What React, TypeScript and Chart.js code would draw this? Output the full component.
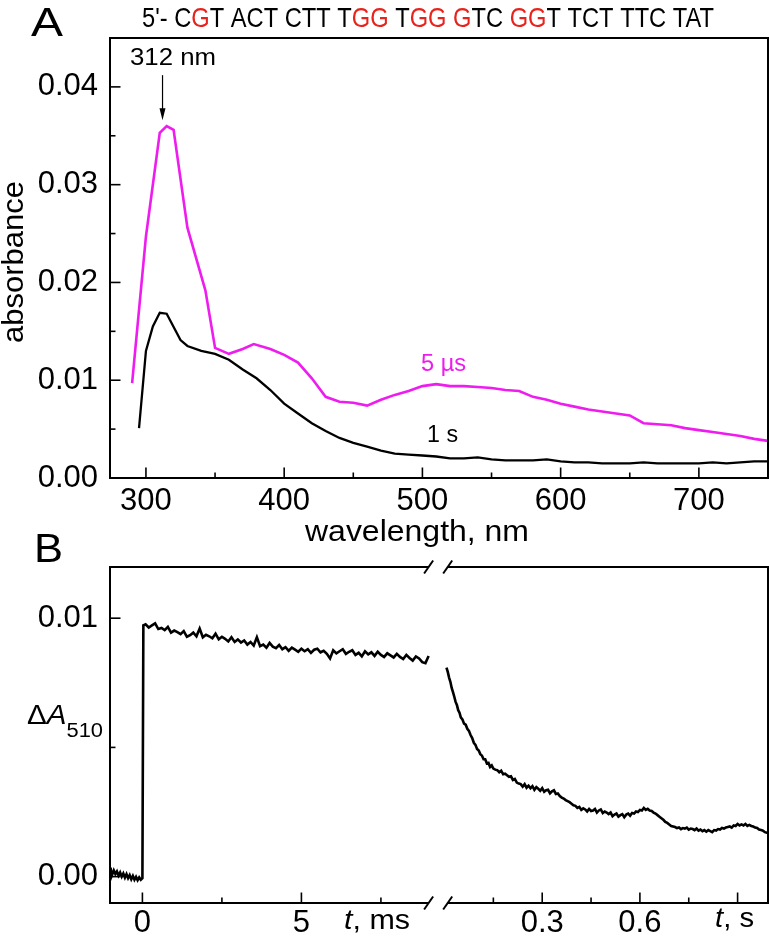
import React, { useEffect, useRef } from "react";
import { Chart, registerables } from "chart.js";

Chart.register(...registerables);

const FONT = "'Liberation Sans', Arial, Helvetica, sans-serif";
const BLACK = "#000000";
const MAGENTA = "#ee1cee";
const RED = "#e8221c";

// ---------------- Panel A data (transient absorption spectra) ----------------
const WL_5US = [290, 300, 310, 315, 320, 330, 343, 350, 360, 370, 378, 390, 400, 410, 420, 430, 440, 450, 460, 470, 480, 490, 500, 510, 520, 530, 540, 550, 560, 570, 580, 590, 600, 610, 620, 630, 640, 650, 660, 670, 680, 690, 700, 710, 720, 730, 740, 750];
const ABS_5US = [0.0097, 0.0247, 0.0353, 0.036, 0.0356, 0.0256, 0.0192, 0.0133, 0.0127, 0.0132, 0.0137, 0.0132, 0.0126, 0.0118, 0.0102, 0.0083, 0.0078, 0.0077, 0.0074, 0.008, 0.0085, 0.0089, 0.0094, 0.0096, 0.0094, 0.0094, 0.0093, 0.0092, 0.009, 0.0089, 0.0083, 0.008, 0.0076, 0.0073, 0.007, 0.0068, 0.0066, 0.0064, 0.0056, 0.0055, 0.0054, 0.0051, 0.0049, 0.0047, 0.0045, 0.0043, 0.004, 0.0038];
const WL_1S = [295, 300, 305, 310, 315, 325, 330, 340, 350, 360, 370, 380, 390, 400, 410, 420, 430, 440, 450, 460, 470, 480, 490, 500, 510, 520, 530, 540, 550, 560, 570, 580, 590, 600, 610, 620, 630, 640, 650, 660, 670, 680, 690, 700, 710, 720, 730, 740, 750];
const ABS_1S = [0.0051, 0.013, 0.0155, 0.0169, 0.0168, 0.0141, 0.0135, 0.013, 0.0127, 0.0121, 0.0111, 0.0102, 0.009, 0.0076, 0.0066, 0.0056, 0.0048, 0.0041, 0.0036, 0.0032, 0.0028, 0.0025, 0.0024, 0.0023, 0.0022, 0.002, 0.002, 0.0021, 0.0019, 0.0018, 0.0018, 0.0018, 0.0019, 0.0017, 0.0016, 0.0016, 0.0015, 0.0015, 0.0015, 0.0016, 0.0015, 0.0015, 0.0015, 0.0015, 0.0016, 0.0015, 0.0016, 0.0017, 0.0017];
const A_X_TICKS = [300, 400, 500, 600, 700];
const A_X_MINOR = [350, 450, 550, 650];
const A_Y_TICKS = [0, 0.01, 0.02, 0.03, 0.04];
const A_Y_MINOR = [0.005, 0.015, 0.025, 0.035];
const PEAK_NM = 312;
const SEQ_PARTS: [string, boolean][] = [
  ["5'- C", false], ["G", true], ["T ACT CTT T", false], ["GG", true], [" T", false],
  ["GG G", true], ["TC ", false], ["GG", true], ["T TCT TTC TAT", false],
];

// ---------------- Panel B data (kinetic trace at 510 nm) ----------------
const B_T_MS = [
  -1.0, -0.97, -0.9, -0.85, -0.8, -0.75, -0.7, -0.65, -0.6, -0.55, -0.5, -0.45, -0.4, -0.35, -0.3, -0.25, -0.2, -0.15, -0.1, -0.05, 0.0, 0.03,
  0.1, 0.2, 0.3, 0.4, 0.5, 0.6, 0.7, 0.8, 0.9, 1.0,
  1.1, 1.2, 1.3, 1.4, 1.5, 1.6, 1.7, 1.8, 1.9, 2.0,
  2.1, 2.2, 2.3, 2.4, 2.5, 2.6, 2.7, 2.8, 2.9, 3.0,
  3.1, 3.2, 3.3, 3.4, 3.5, 3.6, 3.7, 3.8, 3.9, 4.0,
  4.1, 4.2, 4.3, 4.4, 4.5, 4.6, 4.7, 4.8, 4.9, 5.0,
  5.1, 5.2, 5.3, 5.4, 5.5, 5.6, 5.7, 5.8, 5.9, 6.0,
  6.1, 6.2, 6.3, 6.4, 6.5, 6.6, 6.7, 6.8, 6.9, 7.0,
  7.1, 7.2, 7.3, 7.4, 7.5, 7.6, 7.7, 7.8, 7.9, 8.0,
  8.1, 8.2, 8.3, 8.4, 8.5, 8.6, 8.7, 8.8, 8.9, 9.0,
];
const B_DA_MS = [
  0.00035, 0.00002, 0.00024, 0.0001, 0.0002, 0.00004, 0.00016, 0.0, 0.00012, -0.00004, 0.0001, -0.00006, 0.00006, -0.0001, 0.00003, -0.00012, -0.00001, -0.00014, -0.00003, -0.00012, -0.00006, 0.00972,
  0.00976, 0.00964, 0.00972, 0.0098, 0.00958, 0.00962, 0.00954, 0.00966, 0.00944, 0.00952,
  0.00946, 0.00938, 0.0095, 0.00928, 0.00934, 0.00944, 0.0093, 0.0096, 0.00926, 0.00936,
  0.0093, 0.00922, 0.0094, 0.00918, 0.00928, 0.0092, 0.0091, 0.00926, 0.00908, 0.00918,
  0.00906, 0.00914, 0.00898, 0.00908, 0.00894, 0.00926, 0.00892, 0.00898, 0.00886, 0.00904,
  0.0089, 0.00884, 0.00896, 0.0088, 0.00888, 0.00874, 0.00886, 0.00878, 0.0087, 0.00882,
  0.00872, 0.0088, 0.00866, 0.00878, 0.00882, 0.00868, 0.00874, 0.00862, 0.00844, 0.00876,
  0.00864, 0.00872, 0.0088, 0.00862, 0.0087, 0.00876, 0.00858, 0.00866, 0.00852, 0.00872,
  0.0086, 0.00868, 0.00854, 0.0087, 0.00858, 0.0085, 0.00864, 0.00856, 0.00848, 0.00862,
  0.0085, 0.00842, 0.00858, 0.00846, 0.00836, 0.00852, 0.00844, 0.0083, 0.00826, 0.00854,
];
const B_T_S = [
  0.006, 0.01, 0.014, 0.018, 0.022, 0.026, 0.03, 0.034, 0.038, 0.042,
  0.046, 0.05, 0.055, 0.06, 0.065, 0.07, 0.075, 0.08, 0.085, 0.09,
  0.095, 0.1, 0.105, 0.11, 0.115, 0.12, 0.125, 0.13, 0.135, 0.14,
  0.145, 0.15, 0.156, 0.162, 0.168, 0.174, 0.18, 0.186, 0.192, 0.198,
  0.204, 0.21, 0.216, 0.222, 0.228, 0.234, 0.24, 0.246, 0.252, 0.258,
  0.264, 0.27, 0.276, 0.282, 0.288, 0.294, 0.3, 0.306, 0.312, 0.318,
  0.324, 0.33, 0.336, 0.342, 0.348, 0.354, 0.36, 0.366, 0.372, 0.378,
  0.384, 0.39, 0.396, 0.402, 0.408, 0.414, 0.42, 0.426, 0.432, 0.438,
  0.444, 0.45, 0.456, 0.462, 0.468, 0.474, 0.48, 0.486, 0.492, 0.498,
  0.504, 0.51, 0.516, 0.522, 0.528, 0.534, 0.54, 0.546, 0.552, 0.558,
  0.564, 0.57, 0.576, 0.582, 0.588, 0.594, 0.6, 0.606, 0.612, 0.618,
  0.624, 0.63, 0.636, 0.642, 0.648, 0.654, 0.66, 0.666, 0.672, 0.678,
  0.684, 0.69, 0.696, 0.702, 0.708, 0.714, 0.72, 0.726, 0.732, 0.738,
  0.744, 0.75, 0.756, 0.762, 0.768, 0.774, 0.78, 0.786, 0.792, 0.798,
  0.804, 0.81, 0.816, 0.822, 0.828, 0.834, 0.84, 0.846, 0.852, 0.858,
  0.864, 0.87, 0.876, 0.882, 0.888, 0.894, 0.9, 0.906, 0.912, 0.918,
  0.924, 0.93, 0.936, 0.942, 0.948, 0.954, 0.96, 0.966, 0.972, 0.978,
  0.984, 0.99, 0.993,
];
const B_DA_S = [
  0.00809, 0.00792, 0.0077, 0.00754, 0.0073, 0.00714, 0.00696, 0.00676, 0.00664, 0.00644,
  0.00634, 0.00616, 0.00608, 0.00592, 0.00588, 0.00572, 0.00564, 0.00548, 0.00536, 0.00518,
  0.0051, 0.00494, 0.00488, 0.00474, 0.00468, 0.00454, 0.00454, 0.00438, 0.0044, 0.00424,
  0.0043, 0.00418, 0.00414, 0.00412, 0.00404, 0.0041, 0.00396, 0.00398, 0.00392, 0.00386,
  0.00388, 0.00374, 0.00378, 0.00364, 0.0036, 0.00358, 0.00348, 0.00358, 0.00344, 0.00352,
  0.00342, 0.0035, 0.00336, 0.00346, 0.0034, 0.00332, 0.00342, 0.00328, 0.00334, 0.00336,
  0.00322, 0.0033, 0.00334, 0.0032, 0.00322, 0.00312, 0.00306, 0.00302, 0.00296, 0.00292,
  0.00288, 0.00282, 0.00276, 0.00274, 0.00266, 0.0027, 0.00258, 0.00264, 0.0026, 0.00252,
  0.00262, 0.00254, 0.00256, 0.00262, 0.00248, 0.00256, 0.0026, 0.00246, 0.00252, 0.00248,
  0.00242, 0.00248, 0.00234, 0.0024, 0.00244, 0.00232, 0.00238, 0.00242, 0.0023, 0.0024,
  0.00244, 0.00236, 0.00246, 0.00244, 0.00252, 0.0025, 0.00258, 0.00256, 0.00266, 0.00258,
  0.00262, 0.00256, 0.00254, 0.00248, 0.00244, 0.00238, 0.00232, 0.00226, 0.0022, 0.00212,
  0.00208, 0.00202, 0.00196, 0.00194, 0.00192, 0.00188, 0.0019, 0.00184, 0.00188, 0.00186,
  0.0019, 0.00182, 0.00186, 0.00184, 0.0018, 0.00186, 0.00178, 0.00182, 0.00176, 0.0018,
  0.00174, 0.0018, 0.00176, 0.00172, 0.0018, 0.00178, 0.00184, 0.00182, 0.00188, 0.00186,
  0.0019, 0.00192, 0.00194, 0.0019, 0.00198, 0.00196, 0.00204, 0.00198, 0.00202, 0.00198,
  0.00204, 0.00196, 0.002, 0.00196, 0.00194, 0.0019, 0.00188, 0.00182, 0.0018, 0.00178,
  0.00172, 0.0017, 0.00168,
];
const B_MS_TICKS = [0, 5];
const B_MS_MINOR = [2.5, 7.5];
const B_S_TICKS = [0.3, 0.6];
const B_S_MAJOR_UNLABELED = [0.9];
const B_S_MINOR = [0.15, 0.45, 0.75];
const B_Y_TICKS = [0, 0.01];
const B_Y_MINOR = [0.005];

// Broken time axis: ms segment keeps its units, seconds segment is placed after the break.
const SEC_OFFSET = 9.5; // axis position of t = 0 s
const SEC_SCALE = 10.24; // axis units per second
const BREAK_START = 9.0;
const BREAK_END = 9.6;
const secToAxis = (s: number) => SEC_OFFSET + s * SEC_SCALE;

// ---------------- drawing helpers ----------------
type Seg = { text: string; size: number; italic?: boolean; color?: string; dy?: number };

function drawRich(
  ctx: CanvasRenderingContext2D,
  segs: Seg[],
  x: number,
  y: number,
  align: "left" | "center" | "right" = "left",
  targetWidth?: number
) {
  ctx.save();
  ctx.textBaseline = "alphabetic";
  ctx.textAlign = "left";
  const fontOf = (s: Seg) => `${s.italic ? "italic " : ""}${s.size}px ${FONT}`;
  const widths = segs.map((s) => {
    ctx.font = fontOf(s);
    return ctx.measureText(s.text).width;
  });
  const total = widths.reduce((a, b) => a + b, 0);
  const sx = targetWidth ? targetWidth / total : 1;
  const w = total * sx;
  const x0 = align === "left" ? x : align === "center" ? x - w / 2 : x - w;
  ctx.translate(x0, y);
  ctx.scale(sx, 1);
  let cx = 0;
  segs.forEach((s, i) => {
    ctx.font = fontOf(s);
    ctx.fillStyle = s.color || BLACK;
    ctx.fillText(s.text, cx, s.dy || 0);
    cx += widths[i];
  });
  ctx.restore();
}

function seg(ctx: CanvasRenderingContext2D, x1: number, y1: number, x2: number, y2: number) {
  ctx.beginPath();
  ctx.moveTo(x1, y1);
  ctx.lineTo(x2, y2);
  ctx.stroke();
}

const MAJOR = 10.5;
const MINOR = 5.5;

const panelAPlugin = {
  id: "panelADecor",
  afterDraw(chart: any) {
    const { ctx, chartArea: a } = chart;
    const xs = chart.scales.x;
    const ys = chart.scales.y;
    ctx.save();
    ctx.strokeStyle = BLACK;
    ctx.fillStyle = BLACK;
    ctx.lineWidth = 2;
    ctx.strokeRect(a.left, a.top, a.right - a.left, a.bottom - a.top);
    ctx.lineWidth = 1.6;
    A_X_TICKS.forEach((v) => { const p = xs.getPixelForValue(v); seg(ctx, p, a.bottom, p, a.bottom - MAJOR); });
    A_X_MINOR.forEach((v) => { const p = xs.getPixelForValue(v); seg(ctx, p, a.bottom, p, a.bottom - MINOR); });
    A_Y_TICKS.forEach((v) => { const p = ys.getPixelForValue(v); seg(ctx, a.left, p, a.left + MAJOR, p); });
    A_Y_MINOR.forEach((v) => { const p = ys.getPixelForValue(v); seg(ctx, a.left, p, a.left + MINOR, p); });

    // arrow to the 312 nm maximum
    const ax = xs.getPixelForValue(PEAK_NM);
    const yTop = ys.getPixelForValue(0.0412);
    const yTip = ys.getPixelForValue(0.0366);
    ctx.lineWidth = 1.2;
    seg(ctx, ax, yTop, ax, yTip - 10);
    ctx.beginPath();
    ctx.moveTo(ax - 3, yTip - 12);
    ctx.lineTo(ax + 3, yTip - 12);
    ctx.lineTo(ax, yTip);
    ctx.closePath();
    ctx.fill();

    drawRich(ctx, [{ text: "312 nm", size: 24 }], 173, 65, "center", 86);
    drawRich(ctx, [{ text: "5 µs", size: 24, color: MAGENTA }], 421, 371, "left", 45);
    drawRich(ctx, [{ text: "1 s", size: 24 }], 427, 442, "left", 31);
    drawRich(ctx, [{ text: "A", size: 40 }], 31, 36, "left", 32);
    drawRich(
      ctx,
      SEQ_PARTS.map(([t, red]) => ({ text: t, size: 28, color: red ? RED : BLACK })),
      142, 27, "left", 572
    );
    drawRich(ctx, [{ text: "wavelength, nm", size: 30 }], 417, 541, "center", 224);
    ctx.save();
    ctx.translate(23, 262);
    ctx.rotate(-Math.PI / 2);
    drawRich(ctx, [{ text: "absorbance", size: 29 }], 0, 0, "center", 162);
    ctx.restore();
    ctx.restore();
  },
};

const panelBPlugin = {
  id: "panelBDecor",
  afterDraw(chart: any) {
    const { ctx, chartArea: a } = chart;
    const xs = chart.scales.x;
    const ys = chart.scales.y;
    const b0 = xs.getPixelForValue(BREAK_START);
    const b1 = xs.getPixelForValue(BREAK_END);
    ctx.save();
    ctx.strokeStyle = BLACK;
    ctx.fillStyle = BLACK;
    ctx.lineWidth = 2;
    ctx.lineCap = "butt";
    seg(ctx, a.left, a.top - 1, a.left, a.bottom + 1);
    seg(ctx, a.right, a.top - 1, a.right, a.bottom + 1);
    [a.top, a.bottom].forEach((yy) => {
      seg(ctx, a.left, yy, b0, yy);
      seg(ctx, b1, yy, a.right, yy);
      seg(ctx, b0 - 4.5, yy + 6.5, b0 + 4.5, yy - 6.5);
      seg(ctx, b1 - 4.5, yy + 6.5, b1 + 4.5, yy - 6.5);
    });
    ctx.lineWidth = 1.6;
    const xMaj = [...B_MS_TICKS, ...B_S_TICKS.map(secToAxis), ...B_S_MAJOR_UNLABELED.map(secToAxis)];
    const xMin = [...B_MS_MINOR, ...B_S_MINOR.map(secToAxis)];
    xMaj.forEach((v) => { const p = xs.getPixelForValue(v); seg(ctx, p, a.bottom, p, a.bottom - MAJOR); });
    xMin.forEach((v) => { const p = xs.getPixelForValue(v); seg(ctx, p, a.bottom, p, a.bottom - MINOR); });
    B_Y_TICKS.forEach((v) => { const p = ys.getPixelForValue(v); seg(ctx, a.left, p, a.left + MAJOR, p); });
    B_Y_MINOR.forEach((v) => { const p = ys.getPixelForValue(v); seg(ctx, a.left, p, a.left + MINOR, p); });

    drawRich(ctx, [{ text: "B", size: 40 }], 34, 42, "left", 29);
    drawRich(
      ctx,
      [
        { text: "Δ", size: 27 },
        { text: "A", size: 27, italic: true },
        { text: "510", size: 20, dy: 13 },
      ],
      27, 204, "left", 76
    );
    drawRich(ctx, [{ text: "t", size: 27, italic: true }, { text: ", ms", size: 27 }], 344, 409, "left", 66);
    drawRich(ctx, [{ text: "t", size: 27, italic: true }, { text: ", s", size: 27 }], 715, 407, "left", 39);
    ctx.restore();
  },
};

const tickFont = { family: FONT, size: 31 };
const noGrid = { display: false, drawTicks: false, tickLength: 0 };

function makeA(canvas: HTMLCanvasElement) {
  return new Chart(canvas, {
    type: "scatter",
    data: {
      datasets: [
        {
          label: "5 µs",
          data: WL_5US.map((x, i) => ({ x, y: ABS_5US[i] })),
          borderColor: MAGENTA,
          backgroundColor: MAGENTA,
          borderWidth: 2.6,
          pointRadius: 0,
          showLine: true,
          tension: 0,
        },
        {
          label: "1 s",
          data: WL_1S.map((x, i) => ({ x, y: ABS_1S[i] })),
          borderColor: BLACK,
          backgroundColor: BLACK,
          borderWidth: 2.3,
          pointRadius: 0,
          showLine: true,
          tension: 0,
        },
      ],
    },
    options: {
      animation: false,
      responsive: false,
      devicePixelRatio: 1,
      events: [],
      layout: { padding: { top: 38, right: 2, left: 0, bottom: 0 } },
      plugins: { legend: { display: false }, tooltip: { enabled: false } },
      scales: {
        x: {
          type: "linear",
          min: 274,
          max: 750,
          bounds: "data",
          grid: noGrid,
          border: { display: false },
          ticks: { autoSkip: false, maxRotation: 0, font: tickFont, color: BLACK, padding: 5, callback: (v: any) => String(v) },
          afterBuildTicks: (s: any) => { s.ticks = A_X_TICKS.map((v) => ({ value: v })); },
          afterFit: (s: any) => { s.height = 82; },
        },
        y: {
          type: "linear",
          min: 0,
          max: 0.045,
          bounds: "data",
          grid: noGrid,
          border: { display: false },
          ticks: { autoSkip: false, font: tickFont, color: BLACK, padding: 12, callback: (v: any) => Number(v).toFixed(2) },
          afterBuildTicks: (s: any) => { s.ticks = A_Y_TICKS.map((v) => ({ value: v })); },
          afterFit: (s: any) => { s.width = 110; },
        },
      },
    } as any,
    plugins: [panelAPlugin],
  });
}

function makeB(canvas: HTMLCanvasElement) {
  return new Chart(canvas, {
    type: "scatter",
    data: {
      datasets: [
        {
          label: "ms",
          data: B_T_MS.map((x, i) => ({ x, y: B_DA_MS[i] })),
          borderColor: BLACK,
          borderWidth: 2.6,
          pointRadius: 0,
          showLine: true,
          tension: 0,
        },
        {
          label: "s",
          data: B_T_S.map((t, i) => ({ x: secToAxis(t), y: B_DA_S[i] })),
          borderColor: BLACK,
          borderWidth: 2.6,
          pointRadius: 0,
          showLine: true,
          tension: 0,
        },
      ],
    },
    options: {
      animation: false,
      responsive: false,
      devicePixelRatio: 1,
      events: [],
      layout: { padding: { top: 47, right: 2, left: 0, bottom: 0 } },
      plugins: { legend: { display: false }, tooltip: { enabled: false } },
      scales: {
        x: {
          type: "linear",
          min: -1.019,
          max: 19.672,
          bounds: "data",
          grid: noGrid,
          border: { display: false },
          ticks: {
            autoSkip: false,
            maxRotation: 0,
            font: tickFont,
            color: BLACK,
            padding: 2,
            callback: (v: any) => (v < SEC_OFFSET ? String(v) : ((v - SEC_OFFSET) / SEC_SCALE).toFixed(1)),
          },
          afterBuildTicks: (s: any) => {
            s.ticks = [...B_MS_TICKS, ...B_S_TICKS.map(secToAxis)].map((v) => ({ value: v }));
          },
          afterFit: (s: any) => { s.height = 34; },
        },
        y: {
          type: "linear",
          min: -0.00102,
          max: 0.01198,
          bounds: "data",
          grid: noGrid,
          border: { display: false },
          ticks: { autoSkip: false, font: tickFont, color: BLACK, padding: 12, callback: (v: any) => Number(v).toFixed(2) },
          afterBuildTicks: (s: any) => { s.ticks = B_Y_TICKS.map((v) => ({ value: v })); },
          afterFit: (s: any) => { s.width = 110; },
        },
      },
    } as any,
    plugins: [panelBPlugin],
  });
}

export default function App() {
  const refA = useRef<HTMLCanvasElement>(null);
  const refB = useRef<HTMLCanvasElement>(null);
  useEffect(() => {
    const ca = makeA(refA.current as HTMLCanvasElement);
    const cb = makeB(refB.current as HTMLCanvasElement);
    return () => {
      ca.destroy();
      cb.destroy();
    };
  }, []);
  return (
    <div style={{ position: "absolute", left: 0, top: 0, width: 770, height: 937, background: "#ffffff", overflow: "hidden" }}>
      <canvas ref={refA} width={770} height={560} style={{ position: "absolute", left: 0, top: 0, width: 770, height: 560 }} />
      <canvas ref={refB} width={770} height={417} style={{ position: "absolute", left: 0, top: 520, width: 770, height: 417 }} />
    </div>
  );
}
